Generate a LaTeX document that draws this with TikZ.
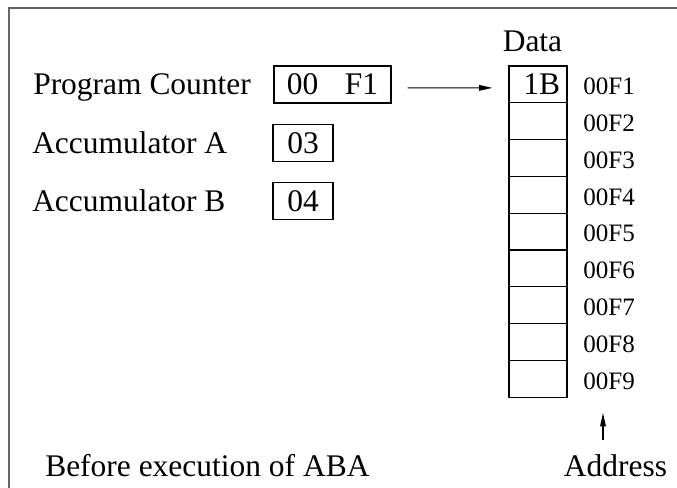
\documentclass[tikz,border=0pt]{standalone}
\usepackage{fontspec}
\setmainfont{Liberation Serif}
\usetikzlibrary{arrows.meta}

\tikzset{
  bigtext/.style={font=\fontsize{23.6pt}{28pt}\selectfont, inner sep=0pt},
  addrtext/.style={font=\fontsize{18.8pt}{22pt}\selectfont, inner sep=0pt, anchor=west},
  regbox/.style={draw, line width=0.9pt, minimum height=27.75pt, inner sep=0pt,
                 font=\fontsize{23.6pt}{28pt}\selectfont},
  memcell/.style={draw, line width=0.9pt, minimum height=27.6pt, text width=33pt,
                  inner sep=5.25pt, align=right, font=\fontsize{23.6pt}{28pt}\selectfont},
  pointer/.style={line width=0.8pt, -{Triangle[length=10pt, width=4.2pt]}},
}

\begin{document}
\begin{tikzpicture}[x=0.75pt, y=-0.75pt]
  \useasboundingbox (0,0) rectangle (677,488);

  % outer frame (open to the right and bottom)
  \draw[black!60, line width=1.5pt] (9,488) -- (9,8) -- (677,8);

  % registers
  \node[bigtext, anchor=base west] (pclabel) at (33,95) {Program Counter};
  \node[bigtext, anchor=base west] (alabel) at (32,154) {Accumulator A};
  \node[bigtext, anchor=base west] (blabel) at (32,212) {Accumulator B};

  \node[regbox, minimum width=87.75pt] (pc) at (332.5,84.5) {00\hspace{20pt}F1};
  \node[regbox, minimum width=45pt] (acca) at (303,143) {03};
  \node[regbox, minimum width=45pt] (accb) at (303,201) {04};

  % memory column
  \node[bigtext, anchor=base] (datalabel) at (532.5,52) {Data};
  \foreach \i/\val in {1/1B,2/,3/,4/,5/,6/,7/,8/,9/} {
    \node[memcell] (m\i) at (538,{66+36.8*(\i-0.5)}) {\val};
    \node[addrtext] (a\i) at (583,{68+36.8*(\i-0.5)}) {00F\i};
  }

  % program counter points at the first cell
  \draw[pointer] ([xshift=12pt, yshift=-2.6pt]pc.east) -- ([xshift=-12pt, yshift=-2.6pt]m1.west);

  % address caption and its arrow
  \node[bigtext, anchor=base] (addr) at (615.5,476) {Address};
  \coordinate (addrtail) at (603,440);
  \coordinate (addrtip) at (603,413);
  \draw[pointer] (addrtail) -- (addrtip);

  \node[bigtext, anchor=base west] (caption) at (45,476) {Before execution of ABA};
\end{tikzpicture}
\end{document}
